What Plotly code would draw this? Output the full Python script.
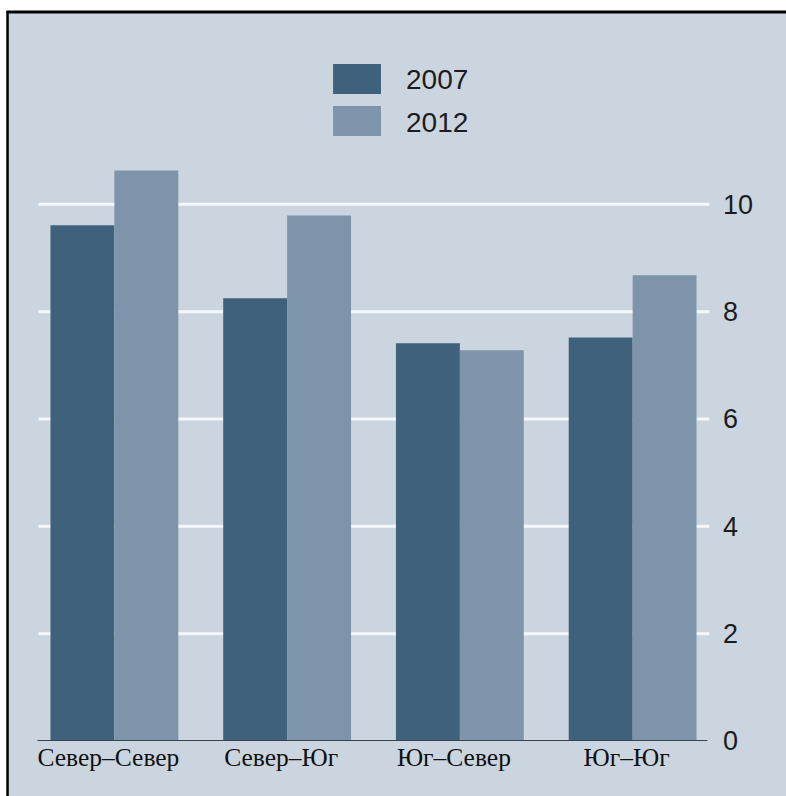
import plotly.graph_objects as go

categories = ["Север–Север", "Север–Юг", "Юг–Север", "Юг–Юг"]
series_names = ["2007", "2012"]
values_2007 = [9.61, 8.25, 7.41, 7.52]
values_2012 = [10.63, 9.79, 7.28, 8.68]
tick_values = [0, 2, 4, 6, 8, 10]

W, H = 786, 796
ML, MR, MT, MB = 27.5, 66.5, 97, 55
PW, PH = W - ML - MR, H - MT - MB


def px_x(p):
    return (p - ML) / PW


def px_y(p):
    return (H - MB - p) / PH


DARK = "#3f617b"
LIGHT = "#7e94aa"
BG = "#cbd5e0"

fig = go.Figure()
fig.add_trace(go.Bar(x=categories, y=values_2007, name=series_names[0],
                     marker=dict(color=DARK, line=dict(width=0))))
fig.add_trace(go.Bar(x=categories, y=values_2012, name=series_names[1],
                     marker=dict(color=LIGHT, line=dict(width=0))))

shapes = []
# background panel
shapes.append(dict(type="rect", xref="paper", yref="paper",
                   x0=px_x(7), x1=px_x(W + 5), y0=px_y(12), y1=px_y(H + 5),
                   fillcolor=BG, line=dict(width=0), layer="below"))
# gridlines
for v in tick_values[1:]:
    shapes.append(dict(type="line", xref="paper", yref="y",
                       x0=px_x(38), x1=px_x(710), y0=v, y1=v,
                       line=dict(color="#f5f8fb", width=3), layer="below"))
# baseline
shapes.append(dict(type="line", xref="paper", yref="y",
                   x0=px_x(37), x1=px_x(708), y0=0, y1=0,
                   line=dict(color="#34444f", width=2), layer="above"))
# border (left and top)
shapes.append(dict(type="line", xref="paper", yref="paper",
                   x0=px_x(7), x1=px_x(7), y0=px_y(11), y1=px_y(H + 5),
                   line=dict(color="black", width=2.5), layer="above"))
shapes.append(dict(type="line", xref="paper", yref="paper",
                   x0=px_x(6), x1=px_x(W + 5), y0=px_y(12), y1=px_y(12),
                   line=dict(color="black", width=3), layer="above"))
# legend swatches
shapes.append(dict(type="rect", xref="paper", yref="paper",
                   x0=px_x(333), x1=px_x(381), y0=px_y(64), y1=px_y(94),
                   fillcolor=DARK, line=dict(width=0)))
shapes.append(dict(type="rect", xref="paper", yref="paper",
                   x0=px_x(333), x1=px_x(381), y0=px_y(106), y1=px_y(136),
                   fillcolor=LIGHT, line=dict(width=0)))

annotations = [
    dict(text=series_names[0], xref="paper", yref="paper", x=px_x(404), y=px_y(80),
         xanchor="left", yanchor="middle", showarrow=False,
         font=dict(family="Arial, Liberation Sans", size=28, color="#1c1c1c")),
    dict(text=series_names[1], xref="paper", yref="paper", x=px_x(404), y=px_y(122),
         xanchor="left", yanchor="middle", showarrow=False,
         font=dict(family="Arial, Liberation Sans", size=28, color="#1c1c1c")),
]

fig.update_layout(
    width=W, height=H,
    margin=dict(l=ML, r=MR, t=MT, b=MB, pad=0),
    paper_bgcolor="white",
    plot_bgcolor="rgba(0,0,0,0)",
    barmode="group",
    bargap=0.26,
    bargroupgap=0,
    showlegend=False,
    shapes=shapes,
    annotations=annotations,
    xaxis=dict(showgrid=False, zeroline=False, showline=False, ticks="",
               ticklabelshift=-6, ticklabelstandoff=-2,
               tickfont=dict(family="Times New Roman, Liberation Serif", size=25.5, color="#111111")),
    yaxis=dict(side="right", range=[0, 12], tickvals=tick_values,
               showgrid=False, zeroline=False, showline=False, ticks="",
               ticklabelstandoff=3,
               tickfont=dict(family="Arial, Liberation Sans", size=27, color="#1c1c1c")),
)

fig.write_html("out.html",
               config={"displayModeBar": False},
               post_script="document.body.style.margin='0';document.body.style.overflow='hidden';")
